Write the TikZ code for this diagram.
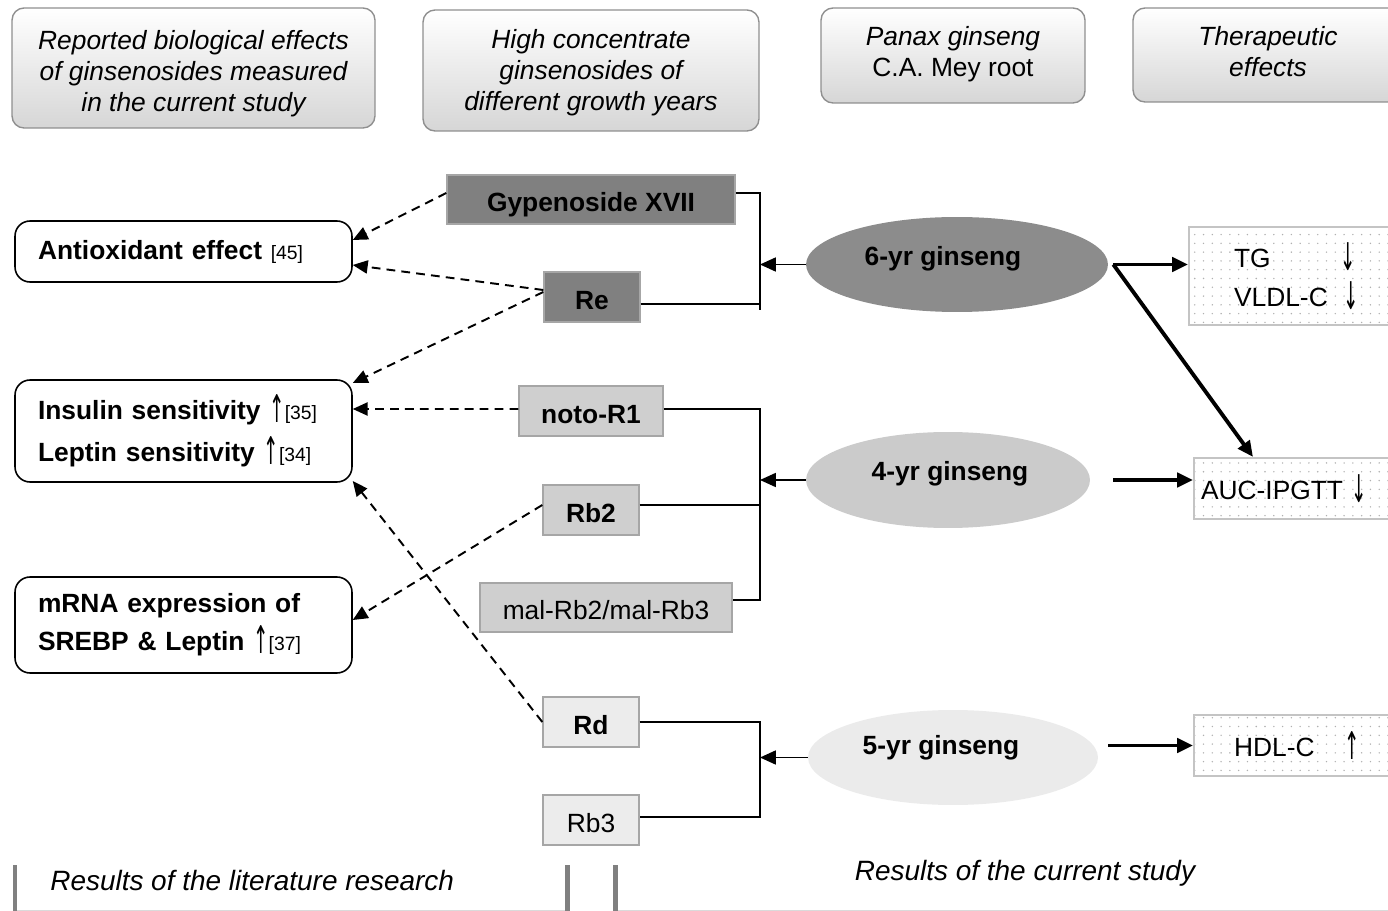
\documentclass[tikz,border=0pt]{standalone}
\usepackage{fontspec}
\usepackage{graphicx}
\setmainfont{Liberation Sans}
\newfontfamily\arrowfont{DejaVu Sans}
\usetikzlibrary{shapes.geometric,arrows.meta,patterns.meta}
\definecolor{hdrline}{HTML}{8F8F8F}
\definecolor{hdrbot}{HTML}{D6D6D6}
\definecolor{gdark}{HTML}{808080}
\definecolor{gmid}{HTML}{CFCFCF}
\definecolor{glight}{HTML}{ECECEC}
\definecolor{boxline}{HTML}{A6A6A6}
\definecolor{ellsix}{HTML}{8C8C8C}
\definecolor{ellfour}{HTML}{CBCBCB}
\definecolor{ellfive}{HTML}{EBEBEB}
\definecolor{outln}{HTML}{C4C4C4}
\definecolor{dotc}{HTML}{B0B0B0}
\definecolor{barc}{HTML}{808080}
\definecolor{baseln}{HTML}{DADADA}
\newcommand{\mainfs}{\fontsize{15pt}{17.6pt}\selectfont}
\newcommand{\refsz}[1]{{\fontsize{11pt}{13pt}\selectfont #1}}
\newcommand{\uparr}{{\arrowfont\mdseries\raisebox{-0.12em}{\scalebox{0.7}[1.45]{↑}}}}
\newcommand{\dnarr}{{\arrowfont\mdseries\raisebox{-0.12em}{\scalebox{0.7}[1.45]{↓}}}}
\begin{document}
\begin{tikzpicture}[x=0.02cm,y=-0.02cm,
  every node/.style={inner sep=0pt, font=\mainfs},
  header/.style={draw=hdrline, line width=0.8pt, rounded corners=0.24cm, top color=white, bottom color=hdrbot},
  hlabel/.style={align=center, font=\mainfs\itshape},
  effect/.style={draw=black, line width=0.9pt, rounded corners=0.3cm, fill=white, align=left, inner xsep=0.46cm, text width=5.82cm, font=\mainfs\bfseries},
  gbox/.style={draw=boxline, line width=0.8pt, minimum height=1cm, text height=14.8pt, text depth=0.6pt, font=\mainfs\bfseries},
  outbox/.style={draw=outln, line width=1.2pt, preaction={fill=white}, pattern={Dots[distance=5pt,radius=0.45pt]}, pattern color=dotc, align=left},
  link/.style={line width=0.8pt},
  spinearrow/.style={line width=0.8pt, -{Triangle[length=9pt,width=8pt]}},
  dasharrow/.style={line width=1.1pt, dash pattern=on 5pt off 3.5pt, -{Triangle[length=8.5pt,width=7.5pt]}},
  fatarrow/.style={line width=2.2pt, -{Triangle[length=9pt,width=8pt]}},
  bar/.style={line width=2.8pt, draw=barc},
  ellfont/.style={font=\mainfs\bfseries}
]
\useasboundingbox (0,0) rectangle (1388,911);
\clip (0,0) rectangle (1388,911);

% headers
\node[header, minimum width=7.26cm, minimum height=2.4cm, label={[hlabel, shift={(0,-0.11cm)}]center:Reported biological effects\\of ginsenosides measured\\in the current study}] (h1) at (193.5,68) {};
\node[header, minimum width=6.72cm, minimum height=2.42cm, label={[hlabel, shift={(0,-0.05cm)}]center:High concentrate\\ginsenosides of\\different growth years}] (h2) at (591,70.5) {};
\node[header, minimum width=5.28cm, minimum height=1.9cm, label={[hlabel, shift={(0,0.02cm)}]center:Panax ginseng\\\textup{C.A. Mey root}}] (h3) at (953,55.5) {};
\node[header, minimum width=5.4cm, minimum height=1.88cm, label={[hlabel, shift={(0,0.07cm)}]center:Therapeutic\\effects}] (h4) at (1268,55) {};

% effects
\node[effect, minimum height=1.22cm] (anti) at (183.5,251.5) {Antioxidant effect \textmd{\refsz{[45]}}};
\node[effect, minimum height=2.04cm, font=\fontsize{15pt}{23.8pt}\selectfont\bfseries] (ins) at (183.5,431) {Insulin sensitivity \uparr\textmd{\refsz{[35]}}\\Leptin sensitivity \uparr\textmd{\refsz{[34]}}};
\node[effect, minimum height=1.92cm, font=\fontsize{15pt}{21.5pt}\selectfont\bfseries] (mrna) at (183.5,625) {mRNA expression of\\SREBP \& Leptin \uparr\textmd{\refsz{[37]}}};

% ginsenosides
\node[gbox, fill=gdark, minimum width=5.76cm, minimum height=0.98cm] (gyp) at (591,199.5) {Gypenoside XVII};
\node[gbox, fill=gdark, minimum width=1.92cm] (re) at (592,297) {Re};
\node[gbox, fill=gmid, minimum width=2.88cm] (noto) at (591,411) {noto-R1};
\node[gbox, fill=gmid, minimum width=1.92cm] (rbtwo) at (591,510) {Rb2};
\node[gbox, fill=gmid, minimum width=5.04cm, minimum height=0.98cm, font=\mainfs] (mal) at (606,607.5) {mal-Rb2/mal-Rb3};
\node[gbox, fill=glight, minimum width=1.92cm] (rd) at (591,722) {Rd};
\node[gbox, fill=glight, minimum width=1.92cm, font=\mainfs] (rbthree) at (591,820) {Rb3};

% ellipses
\node[ellipse, fill=ellsix, minimum width=6.04cm, minimum height=1.9cm, label={[ellfont, shift={(-0.28cm,0.12cm)}]center:6-yr ginseng}] (six) at (957,264.5) {};
\node[ellipse, fill=ellfour, minimum width=5.68cm, minimum height=1.92cm, label={[ellfont, shift={(0.04cm,0.13cm)}]center:4-yr ginseng}] (four) at (948,480) {};
\node[ellipse, fill=ellfive, minimum width=5.8cm, minimum height=1.9cm, label={[ellfont, shift={(-0.24cm,0.19cm)}]center:5-yr ginseng}] (five) at (953,757.5) {};

% outcomes
\node[outbox, text width=2.6cm, inner xsep=0.9cm, minimum height=1.96cm, anchor=west] (tg) at (1188,276) {\makebox[2.12cm][l]{TG}\dnarr\\[4.4pt]\makebox[2.18cm][l]{VLDL-C}\dnarr};
\node[outbox, text width=3.9cm, inner xsep=0.14cm, minimum height=1.22cm, anchor=west] (auc) at (1193,488.5) {AUC-IPGTT \dnarr};
\node[outbox, text width=2.6cm, inner xsep=0.8cm, minimum height=1.22cm, anchor=west] (hdl) at (1193,745.5) {\makebox[2.2cm][l]{HDL-C}\uparr};

% brackets
\coordinate (spA) at (760,193);
\coordinate (spAbot) at (760,310);
\coordinate (gypB) at ([yshift=0.13cm]gyp.east);
\coordinate (reB) at ([yshift=-0.14cm]re.east);
\draw[link] (gypB) -- (gypB -| spA) -- (spAbot);
\draw[link] (reB) -- (reB -| spA);
\draw[spinearrow] (six.west) -- (six.west -| spA);

\coordinate (notoB) at ([yshift=0.04cm]noto.east);
\coordinate (rbtwoB) at ([yshift=0.1cm]rbtwo.east);
\coordinate (malB) at ([yshift=0.15cm]mal.east);
\draw[link] (notoB) -- (notoB -| spA) -- (malB -| spA) -- (malB);
\draw[link] (rbtwoB) -- (rbtwoB -| spA);
\draw[spinearrow] (four.west) -- (four.west -| spA);

\coordinate (rdB) at (rd.east);
\coordinate (rbthreeB) at ([yshift=0.06cm]rbthree.east);
\draw[link] (rdB) -- (rdB -| spA) -- (rbthreeB -| spA) -- (rbthreeB);
\draw[spinearrow] (five.west) -- (five.west -| spA);

% dashed literature links
\draw[dasharrow] ([yshift=0.13cm]gyp.west) -- ([yshift=0.23cm]anti.east);
\draw[dasharrow] ([yshift=0.14cm]re.west) -- ([yshift=-0.27cm]anti.east);
\draw[dasharrow] ([yshift=0.1cm]re.west) -- ([yshift=0.96cm]ins.east);
\draw[dasharrow] ([yshift=0.04cm]noto.west) -- ([yshift=0.44cm]ins.east);
\draw[dasharrow] ([yshift=0.1cm]rbtwo.west) -- ([yshift=0.1cm]mrna.east);
\draw[dasharrow] (rd.west) -- ([yshift=-1.0cm]ins.east);

% therapeutic arrows
\coordinate (sixout) at ([xshift=0.1cm]six.east);
\draw[fatarrow] (sixout) -- (sixout -| tg.west);
\draw[fatarrow] (sixout) -- ([xshift=1.2cm]auc.north west);
\coordinate (fourout) at ([xshift=0.46cm]four.east);
\draw[fatarrow] (fourout) -- (fourout -| auc.west);
\coordinate (fiveout) at ([xshift=0.2cm]five.east);
\draw[fatarrow] (fiveout |- hdl.west) -- (hdl.west);

% bottom panels
\node[fill=white, minimum width=11.04cm, minimum height=0.9cm, anchor=north west] (lit) at (15,865) {};
\node[fill=white, minimum width=16cm, minimum height=0.9cm, anchor=north west] (cur) at (615.5,865) {};
\draw[line width=0.8pt, draw=baseln] (lit.south west) -- (lit.south east);
\draw[line width=0.8pt, draw=baseln] (cur.south west) -- (cur.south east);
\draw[bar] (lit.north west) -- (lit.south west);
\draw[bar] (lit.north east) -- (lit.south east);
\draw[bar] (cur.north west) -- (cur.south west);
\node[anchor=west, font=\fontsize{15.9pt}{18pt}\selectfont\itshape] (littext) at (50,881) {Results of the literature research};
\node[font=\fontsize{15.9pt}{18pt}\selectfont\itshape] (curtext) at (1025,873) {Results of the current study};
\end{tikzpicture}
\end{document}
